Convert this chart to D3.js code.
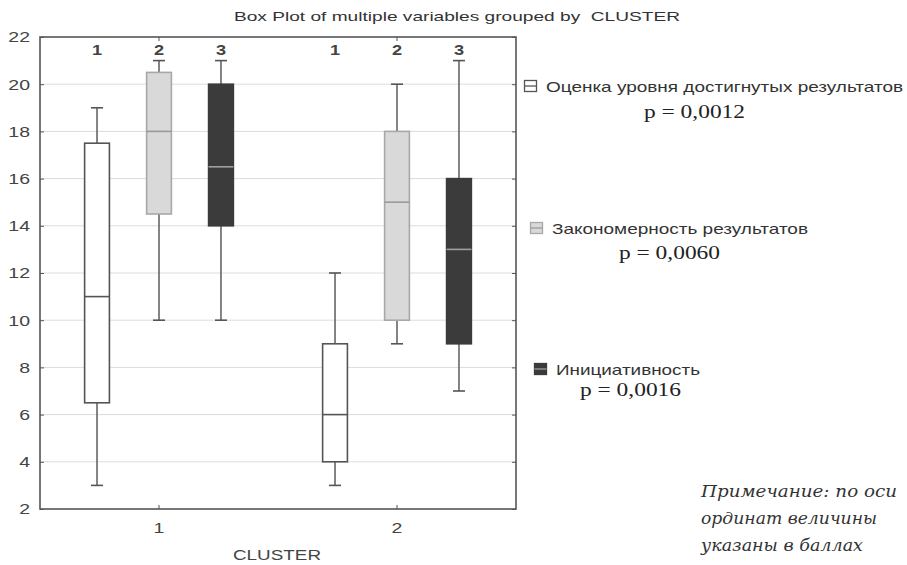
<!DOCTYPE html>
<html>
<head>
<meta charset="utf-8">
<script src="https://cdn.jsdelivr.net/npm/d3@7"></script>
<style>
body{margin:0;background:#fff;}
</style>
</head>
<body>
<svg></svg>
<script>
var width = 907, height = 565;

var clusters = ["1", "2"];
var variables = ["Оценка уровня достигнутых результатов", "Закономерность результатов", "Инициативность"];
var varNums = ["1", "2", "3"];
var pvalues = ["p = 0,0012", "p = 0,0060", "p = 0,0016"];
// [min, q1, median, q3, max] per variable, per cluster
var var1 = [[3, 6.5, 11, 17.5, 19], [3, 4, 6, 9, 12]];
var var2 = [[10, 14.5, 18, 20.5, 21], [9, 10, 15, 18, 20]];
var var3 = [[10, 14, 16.5, 20, 21], [7, 9, 13, 16, 21]];
var yTicks = [2, 4, 6, 8, 10, 12, 14, 16, 18, 20, 22];
var noteLines = ["Примечание: по оси", "ординат величины", "указаны в баллах"];

var fills   = ["#ffffff", "#d9d9d9", "#3b3b3b"];
var strokes = ["#555555", "#a8a8a8", "#3b3b3b"];
var medians = ["#555555", "#9a9a9a", "#a0a0a0"];

var pLeft = 40, pRight = 516, pTop = 37, pBottom = 509;
var sans = "Arial, 'Liberation Sans', sans-serif";
var stretch = 1.3; // the picture's text is wider than plain Arial

var svg = d3.select("svg").attr("width", width).attr("height", height)
	.style("font-family", sans);

var x = d3.scaleBand().domain(clusters).range([pLeft, pRight]);
var xs = d3.scaleBand().domain(varNums).range([0, x.bandwidth()]).paddingInner(0.6).paddingOuter(0.72);
var y = d3.scaleLinear().domain([2, 22]).range([pBottom, pTop]);

// gridlines
svg.append("g").selectAll("line").data(yTicks.slice(1, -1)).enter().append("line")
	.attr("x1", pLeft).attr("x2", pRight)
	.attr("y1", function(d){return y(d)}).attr("y2", function(d){return y(d)})
	.attr("stroke", "#dcdcdc").attr("stroke-width", 1);

// frame
svg.append("rect").attr("x", pLeft).attr("y", pTop).attr("width", pRight - pLeft).attr("height", pBottom - pTop)
	.attr("fill", "none").attr("stroke", "#555").attr("stroke-width", 1.6);

// y axis
var yAxis = svg.append("g").attr("transform", "translate(" + pLeft + ",0)")
	.call(d3.axisLeft(y).tickValues(yTicks).tickSize(-4).tickPadding(10));
yAxis.select(".domain").remove();
yAxis.selectAll("line").attr("stroke", "#555");
yAxis.selectAll("text").attr("font-size", 15).attr("fill", "#444").style("font-family", sans)
	.attr("x", -10 / stretch).attr("transform", "scale(" + stretch + ",1)");

var yAxisR = svg.append("g").attr("transform", "translate(" + pRight + ",0)")
	.call(d3.axisRight(y).tickValues(yTicks).tickSize(-4).tickFormat(""));
yAxisR.select(".domain").remove();
yAxisR.selectAll("line").attr("stroke", "#555");

// x axis
var xAxis = svg.append("g").attr("transform", "translate(0," + pBottom + ")")
	.call(d3.axisBottom(x).tickSize(-4).tickPadding(13));
xAxis.select(".domain").remove();
xAxis.selectAll("line").attr("stroke", "#555");
xAxis.selectAll("text").attr("font-size", 15).attr("fill", "#444").style("font-family", sans)
	.attr("transform", "scale(" + stretch + ",1)");

var xAxisT = svg.append("g").attr("transform", "translate(0," + pTop + ")")
	.call(d3.axisTop(x).tickSize(-4).tickFormat(""));
xAxisT.select(".domain").remove();
xAxisT.selectAll("line").attr("stroke", "#555");

// boxes
var series = [var1, var2, var3];
var boxes = [];
for (var v = 0; v < 3; v++){
	for (var c = 0; c < clusters.length; c++){
		var s = series[v][c];
		boxes.push({v: v, c: clusters[c], min: s[0], q1: s[1], med: s[2], q3: s[3], max: s[4]});
	}
}
function cx(d){return x(d.c) + xs(varNums[d.v]) + xs.bandwidth() / 2}
var bw = xs.bandwidth(), cap = 12;

var g = svg.append("g").selectAll("g").data(boxes).enter().append("g");
g.append("line")
	.attr("x1", cx).attr("x2", cx)
	.attr("y1", function(d){return y(d.min)}).attr("y2", function(d){return y(d.max)})
	.attr("stroke", "#666").attr("stroke-width", 1.6);
g.append("line")
	.attr("x1", function(d){return cx(d) - cap / 2}).attr("x2", function(d){return cx(d) + cap / 2})
	.attr("y1", function(d){return y(d.min)}).attr("y2", function(d){return y(d.min)})
	.attr("stroke", "#555").attr("stroke-width", 1.6);
g.append("line")
	.attr("x1", function(d){return cx(d) - cap / 2}).attr("x2", function(d){return cx(d) + cap / 2})
	.attr("y1", function(d){return y(d.max)}).attr("y2", function(d){return y(d.max)})
	.attr("stroke", "#555").attr("stroke-width", 1.6);
g.append("rect")
	.attr("x", function(d){return cx(d) - bw / 2}).attr("width", bw)
	.attr("y", function(d){return y(d.q3)}).attr("height", function(d){return y(d.q1) - y(d.q3)})
	.attr("fill", function(d){return fills[d.v]})
	.attr("stroke", function(d){return strokes[d.v]}).attr("stroke-width", 1.6);
g.append("line")
	.attr("x1", function(d){return cx(d) - bw / 2}).attr("x2", function(d){return cx(d) + bw / 2})
	.attr("y1", function(d){return y(d.med)}).attr("y2", function(d){return y(d.med)})
	.attr("stroke", function(d){return medians[d.v]}).attr("stroke-width", 1.6);

// variable numbers at top
var nums = [];
clusters.forEach(function(c){ varNums.forEach(function(n, i){ nums.push({c: c, v: i}) }) });
svg.append("g").selectAll("text").data(nums).enter().append("text")
	.attr("transform", function(d){return "translate(" + cx(d) + ",55) scale(" + stretch + ",1)"})
	.attr("text-anchor", "middle").attr("font-size", 14).attr("font-weight", "bold")
	.attr("fill", "#444").text(function(d){return varNums[d.v]});

// title and axis title
svg.append("text").attr("x", 234).attr("y", 21)
	.attr("font-size", 13).attr("fill", "#333").style("white-space", "pre")
	.attr("textLength", 446).attr("lengthAdjust", "spacingAndGlyphs")
	.text("Box Plot of multiple variables grouped by  CLUSTER");
svg.append("text").attr("x", 233).attr("y", 560)
	.attr("font-size", 15).attr("fill", "#444")
	.attr("textLength", 88).attr("lengthAdjust", "spacingAndGlyphs")
	.text("CLUSTER");

// legend
var legX = [524, 530, 534], legY = [86, 228, 369];
var legW = [357, 256, 144];
var pX = [644, 619, 580], pY = [118, 259, 396];
var leg = svg.append("g").selectAll("g").data(variables).enter().append("g")
	.attr("transform", function(d, i){return "translate(" + legX[i] + "," + legY[i] + ")"});
leg.append("rect").attr("x", 0.5).attr("y", -5.5).attr("width", 12).attr("height", 11)
	.attr("fill", function(d, i){return fills[i]})
	.attr("stroke", function(d, i){return i == 0 ? "#555" : strokes[i]}).attr("stroke-width", 1.3);
leg.append("line").attr("x1", 0.5).attr("x2", 12.5).attr("y1", 0).attr("y2", 0)
	.attr("stroke", function(d, i){return i == 0 ? "#555" : medians[i]}).attr("stroke-width", 1.3);
leg.append("text").attr("x", 22).attr("y", 6).attr("font-size", 15).attr("fill", "#333")
	.attr("textLength", function(d, i){return legW[i]}).attr("lengthAdjust", "spacingAndGlyphs")
	.text(function(d){return d});

svg.append("g").selectAll("text").data(pvalues).enter().append("text")
	.attr("x", function(d, i){return pX[i]}).attr("y", function(d, i){return pY[i]})
	.attr("font-size", 19).attr("fill", "#222")
	.attr("textLength", 101).attr("lengthAdjust", "spacingAndGlyphs")
	.style("font-family", "'Liberation Serif', 'Times New Roman', serif")
	.text(function(d){return d});

// note
var noteW = [196, 176, 162];
svg.append("g").selectAll("text").data(noteLines).enter().append("text")
	.attr("x", 701).attr("y", function(d, i){return 497 + i * 27})
	.attr("font-size", 17).attr("font-style", "italic").attr("fill", "#333")
	.attr("textLength", function(d, i){return noteW[i]}).attr("lengthAdjust", "spacingAndGlyphs")
	.style("font-family", "'DejaVu Serif', serif")
	.text(function(d){return d});
</script>
</body>
</html>
